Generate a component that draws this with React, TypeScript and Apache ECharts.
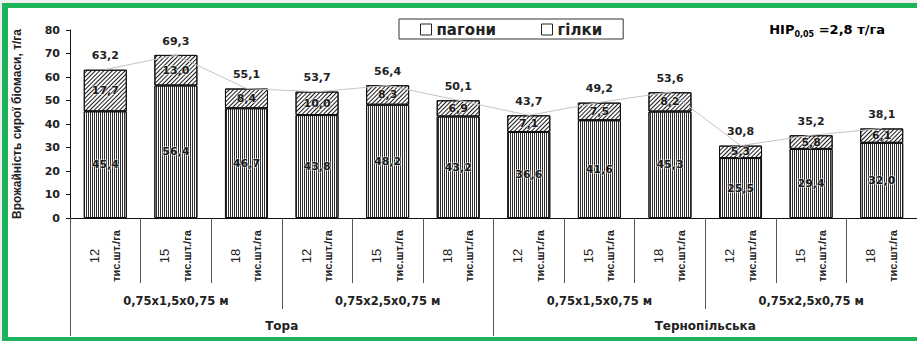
import React, { useEffect, useRef } from "react";
import * as echarts from "echarts";

// Biomass yield, t/ha, by variety, planting scheme and density
const varieties = ["Тора", "Тернопільська"];
const spacings = ["0,75x1,5x0,75 м", "0,75x2,5x0,75 м", "0,75x1,5x0,75 м", "0,75x2,5x0,75 м"];
const densities = ["12", "15", "18", "12", "15", "18", "12", "15", "18", "12", "15", "18"];
const densityUnit = "тис.шт./га";
const shoots = [45.4, 56.4, 46.7, 43.8, 48.2, 43.2, 36.6, 41.6, 45.3, 25.5, 29.4, 32.0];
const branches = [17.7, 13.0, 8.4, 10.0, 8.3, 6.9, 7.1, 7.5, 8.2, 5.3, 5.8, 6.1];
const totals = [63.2, 69.3, 55.1, 53.7, 56.4, 50.1, 43.7, 49.2, 53.6, 30.8, 35.2, 38.1];
const seriesNames = ["пагони", "гілки"];
const yAxisTitle = "Врожайність сирої біомаси, т/га";

const WIDE = "'DejaVu Sans', 'Noto Sans', sans-serif";
const NARROW = "'Liberation Sans', Arial, sans-serif";
const INK = "#222";
const GREEN = "#1db35b";

const fmt = (v: number) => v.toFixed(1).replace(".", ",");

const categoryIds = densities.map(
  (d, i) => `${varieties[Math.floor(i / 6)]} ${spacings[Math.floor(i / 3)]} ${d}`
);
const spacingIds = spacings.map((s, j) => `${varieties[Math.floor(j / 2)]} ${s}`);

export default function App() {
  const ref = useRef<HTMLDivElement>(null);

  useEffect(() => {
    if (!ref.current) return;
    const chart = echarts.init(ref.current, undefined, { renderer: "svg" });

    const innerLabel = {
      show: true,
      position: "inside" as const,
      fontFamily: WIDE,
      fontWeight: "bold" as const,
      fontSize: 11,
      color: "#1a1a1a",
      textBorderColor: "rgba(255,255,255,0.55)",
      textBorderWidth: 1.5,
      formatter: (p: any) => fmt(p.value),
    };

    const tick = (length: number) => ({
      show: true,
      interval: 0,
      alignWithLabel: false,
      length,
      lineStyle: { color: "#555", width: 1 },
    });

    chart.setOption({
      animation: false,
      backgroundColor: "transparent",
      grid: { left: 70, right: 0, top: 30, bottom: 123, containLabel: false },
      legend: {
        data: seriesNames.map((n) => ({
          name: n,
          icon: "rect",
          itemStyle: { color: "#fff", borderColor: "#222", borderWidth: 1, decal: "none" },
        })),
        left: 399,
        top: 19,
        padding: [3, 21, 2, 21],
        itemWidth: 11,
        itemHeight: 11,
        itemGap: 45,
        borderColor: "#333",
        borderWidth: 1,
        selectedMode: false,
        textStyle: { fontFamily: WIDE, fontWeight: "bold", fontSize: 15, color: INK },
      },
      graphic: [
        {
          type: "text",
          right: 32,
          top: 23,
          style: {
            text: "{b|НІР}{s|0,05}{b| =2,8 т/га}",
            rich: {
              b: { fontFamily: WIDE, fontWeight: "bold", fontSize: 13, color: INK, lineHeight: 18 },
              s: {
                fontFamily: WIDE,
                fontWeight: "bold",
                fontSize: 8,
                color: INK,
                lineHeight: 10,
                verticalAlign: "bottom",
              },
            },
          },
        },
      ],
      xAxis: [
        {
          type: "category",
          data: categoryIds,
          position: "bottom",
          boundaryGap: true,
          axisLine: { show: true, lineStyle: { color: "#111", width: 1 } },
          axisTick: tick(65),
          axisLabel: {
            interval: 0,
            rotate: 90,
            align: "center",
            verticalAlign: "middle",
            margin: 38,
            formatter: (_v: string, i: number) => `{n|${densities[i]}}\n{u|${densityUnit}}`,
            rich: {
              n: { fontFamily: NARROW, fontSize: 13, color: INK, lineHeight: 22 },
              u: { fontFamily: NARROW, fontWeight: "bold", fontSize: 11, color: INK, lineHeight: 22 },
            },
          },
        },
        {
          type: "category",
          data: spacingIds,
          position: "bottom",
          offset: 0,
          boundaryGap: true,
          axisLine: { show: false },
          axisTick: tick(91),
          axisLabel: {
            interval: 0,
            margin: 77,
            fontFamily: WIDE,
            fontWeight: "bold",
            fontSize: 11.5,
            color: INK,
            formatter: (_v: string, i: number) => spacings[i],
          },
        },
        {
          type: "category",
          data: varieties,
          position: "bottom",
          offset: 0,
          boundaryGap: true,
          axisLine: { show: false },
          axisTick: tick(118),
          axisLabel: {
            interval: 0,
            margin: 102,
            fontFamily: WIDE,
            fontWeight: "bold",
            fontSize: 12,
            color: INK,
          },
        },
      ],
      yAxis: {
        type: "value",
        min: 0,
        max: 80,
        interval: 10,
        name: yAxisTitle,
        nameLocation: "middle",
        nameGap: 47,
        nameTextStyle: { fontFamily: NARROW, fontWeight: "bold", fontSize: 12, color: INK },
        axisLine: { show: true, lineStyle: { color: "#111" } },
        axisTick: { show: true, length: 4, lineStyle: { color: "#111" } },
        splitLine: { show: false },
        axisLabel: { margin: 10, fontFamily: WIDE, fontWeight: "bold", fontSize: 11, color: INK },
      },
      series: [
        {
          name: seriesNames[0],
          type: "bar",
          stack: "yield",
          barWidth: 43,
          data: shoots,
          itemStyle: {
            color: "#fff",
            borderColor: "#111",
            borderWidth: 1,
            decal: {
              symbol: "rect",
              symbolSize: 1,
              symbolKeepAspect: false,
              color: "#2e2e2e",
              dashArrayX: [1, 1],
              dashArrayY: [4, 0],
              rotation: 0,
            },
          },
          label: innerLabel,
          z: 2,
        },
        {
          name: seriesNames[1],
          type: "bar",
          stack: "yield",
          barWidth: 43,
          data: branches,
          itemStyle: {
            color: "#fff",
            borderColor: "#111",
            borderWidth: 1,
            decal: {
              symbol: "rect",
              symbolSize: 1,
              symbolKeepAspect: false,
              color: "#1a1a1a",
              dashArrayX: [1, 0],
              dashArrayY: [1, 1.2],
              rotation: -Math.PI / 4,
            },
          },
          label: innerLabel,
          z: 2,
        },
        {
          name: "разом",
          type: "line",
          data: totals,
          symbol: "circle",
          symbolSize: 1,
          showSymbol: true,
          itemStyle: { color: "rgba(0,0,0,0)" },
          lineStyle: { color: "#c4c4c4", width: 1 },
          label: {
            show: true,
            position: "top",
            distance: 8,
            fontFamily: WIDE,
            fontWeight: "bold",
            fontSize: 11,
            color: INK,
            formatter: (p: any) => fmt(p.value),
          },
          z: 3,
        },
      ],
    });

    return () => chart.dispose();
  }, []);

  return (
    <div style={{ position: "fixed", left: 0, top: 0, width: 917, height: 341, background: "#efefef" }}>
      <div
        style={{
          position: "absolute",
          left: 2,
          top: 3,
          right: 0,
          bottom: 0,
          boxSizing: "border-box",
          background: "#fff",
          borderLeft: `6px solid ${GREEN}`,
          borderTop: `5px solid ${GREEN}`,
          borderBottom: `4px solid ${GREEN}`,
        }}
      />
      <div ref={ref} style={{ position: "absolute", left: 0, top: 0, width: 917, height: 341 }} />
    </div>
  );
}
